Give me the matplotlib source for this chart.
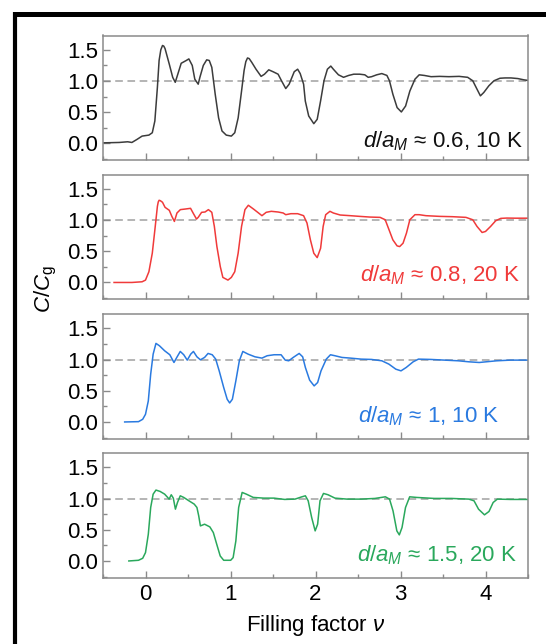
# C/Cg vs filling factor, four stacked panels

import matplotlib
matplotlib.use('Agg')
import matplotlib.pyplot as plt
from matplotlib.ticker import MultipleLocator
from matplotlib.lines import Line2D

plt.rcParams['font.family'] = ['Liberation Sans', 'DejaVu Sans']
plt.rcParams['mathtext.fontset'] = 'custom'
plt.rcParams['mathtext.rm'] = 'Liberation Sans'
plt.rcParams['mathtext.it'] = 'Liberation Sans:italic'

# data
nu_06 = [-0.49, -0.31, -0.21, -0.16, -0.10, -0.04, 0.04, 0.08, 0.11, 0.14, 0.16, 0.18, 0.20, 0.215,
         0.23, 0.28, 0.32, 0.35, 0.38, 0.42, 0.48, 0.51, 0.55, 0.58, 0.62, 0.64, 0.68, 0.72, 0.75,
         0.78, 0.82, 0.86, 0.90, 0.95, 1.01, 1.05, 1.09, 1.13, 1.16, 1.18, 1.20, 1.22, 1.25, 1.30,
         1.36, 1.40, 1.45, 1.50, 1.56, 1.60, 1.65, 1.69, 1.75, 1.79, 1.82, 1.86, 1.88, 1.92, 1.98,
         2.02, 2.06, 2.10, 2.14, 2.18, 2.21, 2.27, 2.33, 2.39, 2.45, 2.52, 2.58, 2.62, 2.66, 2.72,
         2.78, 2.84, 2.87, 2.91, 2.96, 3.01, 3.06, 3.11, 3.17, 3.22, 3.28, 3.36, 3.46, 3.57, 3.69,
         3.79, 3.85, 3.90, 3.94, 3.98, 4.04, 4.10, 4.17, 4.23, 4.30, 4.38, 4.45, 4.50]
c_06 = [0.01, 0.016, 0.027, 0.016, 0.065, 0.118, 0.134, 0.172, 0.36, 0.90, 1.33, 1.50, 1.57, 1.56,
        1.52, 1.27, 1.06, 0.98, 1.11, 1.285, 1.33, 1.355, 1.25, 1.03, 0.95, 1.06, 1.25, 1.34, 1.33,
        1.22, 0.79, 0.41, 0.20, 0.134, 0.118, 0.172, 0.41, 0.84, 1.17, 1.31, 1.37, 1.36, 1.30, 1.19,
        1.075, 1.11, 1.18, 1.15, 1.11, 1.005, 0.88, 0.95, 1.15, 1.19, 1.12, 0.95, 0.68, 0.44, 0.317,
        0.387, 0.683, 1.005, 1.19, 1.24, 1.19, 1.10, 1.06, 1.09, 1.11, 1.11, 1.10, 1.06, 1.07, 1.10,
        1.12, 1.09, 1.005, 0.79, 0.575, 0.505, 0.60, 0.84, 1.03, 1.10, 1.09, 1.07, 1.075, 1.07,
        1.075, 1.06, 1.005, 0.87, 0.763, 0.817, 0.925, 1.005, 1.045, 1.05, 1.05, 1.04, 1.02, 1.01]

nu_08 = [-0.37, -0.16, -0.04, 0.0, 0.04, 0.08, 0.11, 0.14, 0.15, 0.16, 0.175, 0.20, 0.23, 0.28,
         0.31, 0.34, 0.37, 0.41, 0.47, 0.53, 0.56, 0.60, 0.62, 0.66, 0.70, 0.74, 0.78, 0.81, 0.84,
         0.88, 0.91, 0.97, 1.01, 1.05, 1.09, 1.13, 1.17, 1.21, 1.27, 1.32, 1.37, 1.42, 1.48, 1.56,
         1.62, 1.65, 1.71, 1.79, 1.86, 1.90, 1.94, 1.98, 2.02, 2.06, 2.09, 2.12, 2.17, 2.21, 2.29,
         2.41, 2.52, 2.64, 2.76, 2.82, 2.85, 2.91, 2.96, 2.99, 3.03, 3.07, 3.11, 3.17, 3.22, 3.30,
         3.46, 3.61, 3.77, 3.85, 3.90, 3.96, 4.00, 4.06, 4.12, 4.18, 4.25, 4.35, 4.50]
c_08 = [0.0, 0.0, 0.011, 0.038, 0.172, 0.47, 0.84, 1.22, 1.29, 1.317, 1.31, 1.285, 1.204, 1.156,
        1.059, 0.978, 1.113, 1.167, 1.177, 1.188, 1.113, 1.016, 1.043, 1.124, 1.129, 1.167, 1.124,
        0.898, 0.575, 0.253, 0.081, 0.038, 0.081, 0.172, 0.47, 0.898, 1.167, 1.237, 1.177, 1.124,
        1.07, 1.124, 1.14, 1.129, 1.113, 1.086, 1.102, 1.102, 1.07, 0.952, 0.683, 0.468, 0.398,
        0.548, 0.898, 1.086, 1.14, 1.113, 1.081, 1.07, 1.059, 1.048, 1.043, 1.005, 0.898, 0.683,
        0.586, 0.575, 0.629, 0.79, 1.005, 1.086, 1.086, 1.07, 1.059, 1.054, 1.043, 1.005, 0.898,
        0.801, 0.817, 0.898, 0.989, 1.027, 1.032, 1.03, 1.03]

nu_1 = [-0.245, -0.082, -0.033, 0.0, 0.033, 0.061, 0.090, 0.123, 0.164, 0.225, 0.286, 0.335, 0.368,
        0.409, 0.450, 0.491, 0.532, 0.564, 0.605, 0.646, 0.695, 0.736, 0.785, 0.826, 0.867, 0.920,
        0.961, 0.990, 1.022, 1.063, 1.104, 1.145, 1.207, 1.288, 1.370, 1.431, 1.513, 1.595, 1.644,
        1.685, 1.738, 1.808, 1.849, 1.881, 1.931, 1.984, 2.025, 2.065, 2.127, 2.176, 2.229, 2.311,
        2.413, 2.536, 2.658, 2.781, 2.863, 2.945, 3.006, 3.067, 3.149, 3.211, 3.354, 3.517, 3.681,
        3.804, 3.926, 4.008, 4.131, 4.294, 4.491]
c_1 = [0.0, 0.005, 0.043, 0.123, 0.337, 0.766, 1.087, 1.259, 1.221, 1.141, 1.077, 0.953, 1.034,
       1.13, 1.077, 0.991, 1.087, 1.13, 1.044, 0.996, 1.034, 1.098, 1.077, 1.007, 0.819, 0.552,
       0.364, 0.305, 0.364, 0.659, 0.98, 1.13, 1.087, 1.044, 1.023, 1.061, 1.077, 1.077, 0.991,
       0.98, 1.034, 1.098, 1.044, 0.873, 0.67, 0.578, 0.632, 0.819, 1.007, 1.077, 1.061, 1.034,
       1.023, 1.007, 1.002, 0.98, 0.927, 0.846, 0.819, 0.873, 0.964, 1.007, 1.002, 0.991, 0.98,
       0.964, 0.953, 0.964, 0.98, 0.991, 0.991]

nu_15 = [-0.196, -0.082, -0.033, 0.0, 0.033, 0.061, 0.090, 0.123, 0.172, 0.225, 0.254, 0.278, 0.303,
         0.327, 0.352, 0.376, 0.409, 0.450, 0.511, 0.573, 0.605, 0.626, 0.646, 0.695, 0.757, 0.798,
         0.838, 0.879, 0.920, 1.002, 1.031, 1.063, 1.096, 1.137, 1.186, 1.268, 1.391, 1.513, 1.636,
         1.759, 1.840, 1.881, 1.914, 1.955, 1.996, 2.025, 2.053, 2.094, 2.147, 2.229, 2.372, 2.536,
         2.699, 2.822, 2.871, 2.912, 2.957, 2.986, 3.018, 3.059, 3.108, 3.190, 3.395, 3.599, 3.804,
         3.865, 3.918, 3.988, 4.041, 4.090, 4.139, 4.294, 4.491]
c_15 = [0.0, 0.011, 0.043, 0.134, 0.428, 0.857, 1.071, 1.136, 1.114, 1.071, 1.028, 0.991, 1.061,
        1.007, 0.83, 0.937, 1.044, 1.018, 0.964, 0.911, 0.857, 0.723, 0.562, 0.589, 0.546, 0.455,
        0.268, 0.08, 0.011, 0.011, 0.054, 0.321, 0.857, 1.098, 1.071, 1.018, 1.007, 1.007, 0.986,
        0.991, 1.028, 1.044, 0.964, 0.696, 0.482, 0.589, 0.964, 1.082, 1.061, 1.007, 0.991, 0.991,
        1.002, 1.028, 0.991, 0.803, 0.482, 0.418, 0.536, 0.857, 1.028, 1.018, 1.002, 1.002, 0.991,
        0.964, 0.83, 0.739, 0.793, 0.937, 0.991, 0.986, 0.986]

series = [(nu_06, c_06), (nu_08, c_08), (nu_1, c_1), (nu_15, c_15)]
labels = [r'$d/a_M$ ≈ 0.6, 10 K', r'$d/a_M$ ≈ 0.8, 20 K',
          r'$d/a_M$ ≈ 1, 10 K', r'$d/a_M$ ≈ 1.5, 20 K']
colors = ['#3c3c3c', '#f03a3a', '#2a7ae0', '#2aa85c']
label_x = [0.988, 0.981, 0.932, 0.974]
label_y = [0.10, 0.145, 0.127, 0.13]

W, H = 546, 644
fig = plt.figure(figsize=(W / 100, H / 100), dpi=100)

tops = [35.5, 174.5, 314, 453]
ph = 124.5
left, right = 103, 528
spine_col = '#8a8a8a'
fs = 16

for i in range(4):
    ax = fig.add_axes([left / W, 1 - (tops[i] + ph) / H, (right - left) / W, ph / H])
    x, y = series[i]
    ax.plot(x, y, color=colors[i], lw=1.1, solid_joinstyle='round')
    ax.axhline(1.0, color='#a0a0a0', lw=1.1, ls=(0, (5, 3)), zorder=0)
    ax.set_xlim(-0.5, 4.5)
    ax.set_ylim(-0.265, 1.73)
    ax.xaxis.set_major_locator(MultipleLocator(1))
    ax.xaxis.set_minor_locator(MultipleLocator(0.5))
    ax.yaxis.set_minor_locator(MultipleLocator(0.25))
    ax.set_yticks([0, 0.5, 1.0, 1.5])
    ax.set_yticklabels(['0.0', '0.5', '1.0', '1.5'])
    ax.tick_params(which='both', direction='in', color=spine_col, width=1)
    ax.tick_params(which='major', length=5, labelsize=fs, pad=3.5)
    ax.tick_params(which='minor', length=3)
    ax.tick_params(axis='x', which='major', pad=4.5)
    for s in ax.spines.values():
        s.set_color(spine_col)
        s.set_linewidth(1.1)
    if i < 3:
        ax.set_xticklabels([])
    ax.text(label_x[i], label_y[i], labels[i], transform=ax.transAxes, ha='right', va='baseline',
            fontsize=fs, color=colors[i] if i > 0 else '#111111')

fig.text(46 / W, 1 - 289 / H, r'$C/C_{\mathrm{g}}$', rotation=90, ha='center', va='center',
         fontsize=fs)
fig.text((left + right) / 2 / W, 1 - 625 / H, 'Filling factor $\\nu$', ha='center', va='center',
         fontsize=fs)

# thick black frame on top and left
fig.add_artist(Line2D([13 / W, 1.0], [1 - 13.5 / H, 1 - 13.5 / H], color='black', lw=3.6,
                      transform=fig.transFigure, solid_capstyle='butt'))
fig.add_artist(Line2D([14.7 / W, 14.7 / W], [1 - 11.5 / H, 0.0], color='black', lw=3.0,
                      transform=fig.transFigure, solid_capstyle='butt'))

fig.savefig('out.png', dpi=100)
